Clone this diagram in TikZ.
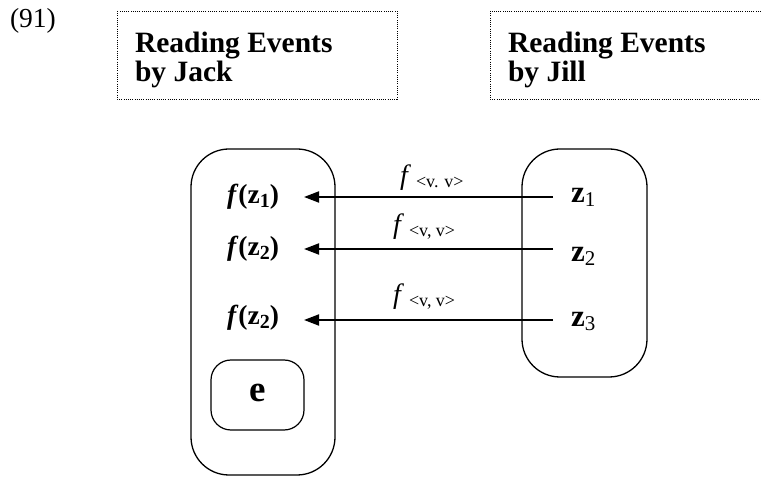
\documentclass[tikz,border=0pt]{standalone}
\usepackage{fontspec}
\setmainfont{Liberation Serif}
\usetikzlibrary{arrows.meta}

% lowered subscript in a given size: \lowsub{size}{drop}{text}
\newcommand{\lowsub}[3]{\raisebox{-#2pt}{\fontsize{#1}{#1}\selectfont #3}}

\begin{document}
\begin{tikzpicture}[x=1pt,y=-1pt,
  txt/.style={inner sep=0pt,outer sep=0pt,anchor=base west},
  head/.style={txt,font=\fontsize{29.5}{29.5}\selectfont\bfseries},
  dotbox/.style={draw,line width=0.9pt,dash pattern=on 0.9pt off 1.3pt},
  set/.style={draw,line width=1.3pt,rounded corners=38pt},
  inner/.style={draw,line width=1.2pt,rounded corners=20pt},
  fz/.style={txt,font=\fontsize{27.5}{27.5}\selectfont\bfseries},
  zz/.style={txt,font=\fontsize{31}{31}\selectfont\bfseries},
  flab/.style={txt,font=\fontsize{28}{28}\selectfont},
  map/.style={line width=1.8pt,-{Triangle[length=15pt,width=11pt]}}]

\useasboundingbox (0,0) rectangle (761,478);

% example number
\node[txt,font=\fontsize{27.5}{27.5}\selectfont] (num) at (10,28) {(91)};

% dotted heading boxes
\draw[dotbox] (117,11) rectangle (397,99);
\draw[dotbox] (490,11) rectangle (764,99);
\node[head] (jackA) at (135,53) {Reading Events};
\node[head] (jackB) at (135,82) {by Jack};
\node[head] (jillA) at (508,53) {Reading Events};
\node[head] (jillB) at (508,82) {by Jill};

% the two sets of events
\draw[set] (191,149) rectangle (335,475);
\draw[set] (522,149) rectangle (647,377);
\draw[inner] (211,360) rectangle (304,430);
\node[txt,font=\fontsize{37}{37}\selectfont\bfseries] (e) at (249,402) {e};

% images in Jack's set
\node[fz] (fz1) at (227,204) {\textit{f}(z\lowsub{20}{4}{1})};
\node[fz] (fz2) at (227,256) {\textit{f}(z\lowsub{20}{4}{2})};
\node[fz] (fz3) at (227,325) {\textit{f}(z\lowsub{20}{4}{2})};

% events in Jill's set
\node[zz] (z1) at (571,203) {z\lowsub{21}{4}{\mdseries 1}};
\node[zz] (z2) at (571,262) {z\lowsub{21}{4}{\mdseries 2}};
\node[zz] (z3) at (571,327) {z\lowsub{21}{4}{\mdseries 3}};

% arrow end points
\coordinate (s1) at (553,197); \coordinate (t1) at (304,197);
\coordinate (s2) at (553,249); \coordinate (t2) at (304,249);
\coordinate (s3) at (553,320); \coordinate (t3) at (304,320);
\draw[map] (s1) -- (t1);
\draw[map] (s2) -- (t2);
\draw[map] (s3) -- (t3);

% mapping labels
\node[flab] (f1) at (400,185) {\textit{f}\hspace{5pt}\lowsub{18}{3}{<v. v>}};
\node[flab] (f2) at (393,234) {\textit{f}\hspace{5pt}\lowsub{18}{3}{<v, v>}};
\node[flab] (f3) at (393,304) {\textit{f}\hspace{5pt}\lowsub{18}{3}{<v, v>}};
\end{tikzpicture}
\end{document}
